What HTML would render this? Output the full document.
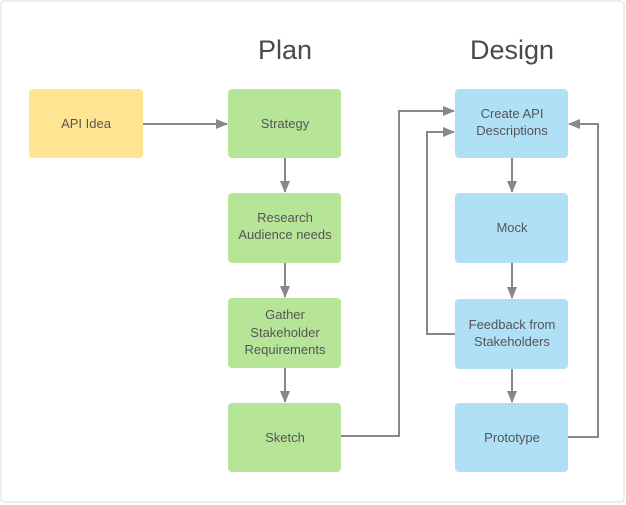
<!DOCTYPE html>
<html><head><style>
body{margin:0;background:#fff;}
svg{display:block;font-family:"Liberation Sans",sans-serif;}
</style></head><body>
<svg width="626" height="505" viewBox="0 0 626 505">
<defs><marker id="a" markerWidth="12" markerHeight="10" refX="11" refY="5" orient="auto" markerUnits="userSpaceOnUse"><path d="M0,0 L12,5 L0,10 Z" fill="#888"/></marker></defs>
<rect x="1" y="1" width="623" height="501" rx="3" fill="#fff" stroke="#ddd"/>
<text x="285" y="59" font-size="27" fill="#4a4a4a" text-anchor="middle">Plan</text>
<text x="512" y="59" font-size="27" fill="#4a4a4a" text-anchor="middle">Design</text>
<g fill="none" stroke="#888" stroke-width="2">
<path d="M143,124 H227" marker-end="url(#a)"/>
<path d="M285,158 V192" marker-end="url(#a)"/>
<path d="M285,263 V297" marker-end="url(#a)"/>
<path d="M285,368 V402" marker-end="url(#a)"/>
<path d="M512,158 V192" marker-end="url(#a)"/>
<path d="M512,263 V298" marker-end="url(#a)"/>
<path d="M512,368 V402" marker-end="url(#a)"/>
<path d="M341,436 H399 V111 H454" marker-end="url(#a)"/>
<path d="M455,334 H427 V132 H454" marker-end="url(#a)"/>
<path d="M568,437 H598 V124 H569" marker-end="url(#a)"/>
</g>
<g font-size="13" fill="#555" text-anchor="middle">
<rect x="29" y="89" width="114" height="69" rx="4" fill="#ffe591"/>
<text x="86" y="128">API Idea</text>
<rect x="228" y="89" width="113" height="69" rx="4" fill="#b7e598"/>
<text x="285" y="128">Strategy</text>
<rect x="228" y="193" width="113" height="70" rx="4" fill="#b7e598"/>
<text x="285" y="222">Research</text><text x="285" y="239">Audience needs</text>
<rect x="228" y="298" width="113" height="70" rx="4" fill="#b7e598"/>
<text x="285" y="319">Gather</text><text x="285" y="337">Stakeholder</text><text x="285" y="354">Requirements</text>
<rect x="228" y="403" width="113" height="69" rx="4" fill="#b7e598"/>
<text x="285" y="442">Sketch</text>
<rect x="455" y="89" width="113" height="69" rx="4" fill="#b0e0f6"/>
<text x="512" y="118">Create API</text><text x="512" y="135">Descriptions</text>
<rect x="455" y="193" width="113" height="70" rx="4" fill="#b0e0f6"/>
<text x="512" y="232">Mock</text>
<rect x="455" y="299" width="113" height="70" rx="4" fill="#b0e0f6"/>
<text x="512" y="329">Feedback from</text><text x="512" y="346">Stakeholders</text>
<rect x="455" y="403" width="113" height="69" rx="4" fill="#b0e0f6"/>
<text x="512" y="442">Prototype</text>
</g>
</svg>
</body></html>
